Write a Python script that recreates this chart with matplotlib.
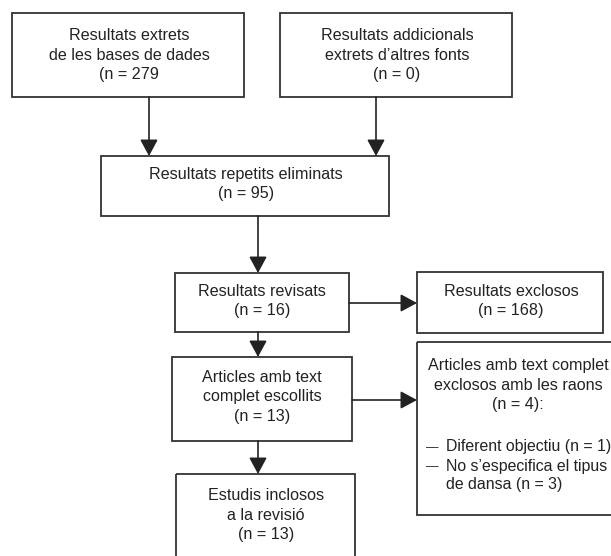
import matplotlib
matplotlib.use("Agg")
import matplotlib.pyplot as plt
from matplotlib.patches import Rectangle

# ---- content ----
box_texts = [
    "Resultats extrets\nde les bases de dades\n(n = 279",
    "Resultats addicionals\nextrets d\u2019altres fonts\n(n = 0)",
    "Resultats repetits eliminats\n(n = 95)",
    "Resultats revisats\n(n = 16)",
    "Resultats exclosos\n(n = 168)",
    "Articles amb text\ncomplet escollits\n(n = 13)",
    "Articles amb text complet\nexclosos amb les raons\n(n = 4):",
    "Estudis inclosos\na la revisi\u00f3\n(n = 13)",
]
reason_bullets = ["\u2014", "\u2014", ""]
reason_lines = [
    "Diferent objectiu (n = 1)",
    "No s\u2019especifica el tipus",
    "de dansa (n = 3)",
]

# ---- layout (pixel space) ----
boxes = [  # x0, y0, x1, y1
    (12, 13, 244, 97),
    (280, 13, 512, 97),
    (101, 156, 389, 216),
    (175, 273, 349, 332),
    (417, 272, 603, 333),
    (172, 357, 352, 441),
    (417, 342, 614, 515),
    (176, 474, 355, 560),
]
text_centers = [
    (129, 55), (397, 55), (246, 184), (262, 301), (511, 301),
    (262, 397), (518, 385), (266, 515),
]
arrows = [  # (x0, y0, x1, y1)
    (149, 97, 149, 156),
    (376, 97, 376, 156),
    (258, 216, 258, 273),
    (349, 303, 417, 303),
    (258, 332, 258, 357),
    (352, 400, 417, 400),
    (258, 441, 258, 474),
]

W, H = 611, 556
fig = plt.figure(figsize=(W / 100, H / 100), dpi=100)
ax = fig.add_axes([0, 0, 1, 1])
ax.set_xlim(0, W)
ax.set_ylim(H, 0)
ax.axis("off")

edge = "#333333"
tcol = "#222222"
fs = 11.6
font = ["Liberation Sans", "DejaVu Sans"]

for (x0, y0, x1, y1) in boxes:
    ax.add_patch(Rectangle((x0, y0), x1 - x0, y1 - y0, fill=False,
                           edgecolor=edge, linewidth=1.3))

for txt, (cx, cy) in zip(box_texts, text_centers):
    ax.text(cx, cy, txt, ha="center", va="center", fontsize=fs,
            color=tcol, family=font, linespacing=1.38)

for i, (b, line) in enumerate(zip(reason_bullets, reason_lines)):
    y = 447 + 19 * i
    if b:
        ax.text(426, y + 1, b, ha="left", va="center", fontsize=9,
                color=tcol, family=font)
    ax.text(446, y, line, ha="left", va="center", fontsize=11.4,
            color=tcol, family=font)

for (x0, y0, x1, y1) in arrows:
    ax.annotate("", xy=(x1, y1), xytext=(x0, y0),
                arrowprops=dict(arrowstyle="-|>,head_length=0.5,head_width=0.27",
                                color="#222222", lw=1.2,
                                mutation_scale=20, shrinkA=0, shrinkB=0))

fig.savefig("out.png", dpi=100)
